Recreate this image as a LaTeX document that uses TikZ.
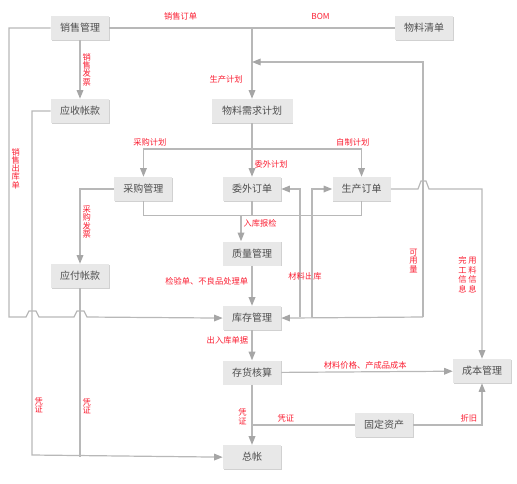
\documentclass[tikz,border=0pt]{standalone}
\usepackage{fontspec}
\setmainfont{Noto Sans CJK SC}
\usetikzlibrary{arrows.meta,positioning,shadows}

\definecolor{boxgray}{RGB}{232,232,232}
\definecolor{linegray}{RGB}{184,184,184}
\definecolor{tipgray}{RGB}{166,166,166}
\definecolor{txtgray}{RGB}{78,78,78}
\definecolor{lblred}{RGB}{250,30,50}

\begin{document}
\begin{tikzpicture}[x=0.75pt,y=-0.75pt,
    blk/.style={rectangle, fill=boxgray, text=txtgray, inner sep=0pt,
      minimum width=43.5pt, minimum height=18pt, font=\fontsize{7.5}{9}\selectfont,
      drop shadow={shadow xshift=0.4pt, shadow yshift=-0.6pt, fill=black!30, opacity=0.6}},
    ln/.style={draw=linegray, line width=0.9pt},
    arr/.style={ln, -{Triangle[length=6.5pt,width=5pt,color=tipgray]}},
    lbl/.style={text=lblred, inner sep=1.5pt, font=\fontsize{6.2}{6.2}\selectfont, align=center}]
  \useasboundingbox (0,0) rectangle (517,483);
  \node[blk] (sales) at (80,28) {销售管理};
  \node[blk] (bom) at (424,28) {物料清单};
  \node[blk] (ar) at (80,111) {应收帐款};
  \node[blk, minimum width=60.75pt] (mrp) at (252,111) {物料需求计划};
  \node[blk] (outs) at (252,189) {委外订单};
  \node[blk, left=37.5pt of outs] (purch) {采购管理};
  \node[blk, right=38.25pt of outs] (prod) {生产订单};
  \node[blk, below=30pt of outs] (qc) {质量管理};
  \node[blk] (ap) at (80,276) {应付帐款};
  \node[blk, below=30pt of qc] (inv) {库存管理};
  \node[blk, below=22.5pt of inv] (acc) {存货核算};
  \node[blk, below=45pt of acc] (ledger) {总帐};
  \node[blk] (cost) at (482,371) {成本管理};
  \node[blk] (fa) at (384,425) {固定资产};
  \coordinate (ky) at (423,317);
  \coordinate (jh) at (252,149);
  \coordinate (rk) at (241,216);
  \coordinate (xs) at (9,317);
  \coordinate (pz) at (32,455);
  % top
  \draw[arr] (sales.east) -| node[lbl, above=4pt, pos=0.25] {销售订单}
    node[lbl, left, xshift=-5pt, pos=0.86] {生产计划} (mrp.north);
  \draw[ln] (bom.west) -- node[lbl, above=4pt, pos=0.52] {BOM} (bom.west -| mrp.north);
  \draw[arr] (sales) -- node[lbl, right, pos=0.5] {销\\售\\发\\票} (ar);
  \draw[arr] (ky) -- (inv.east);
  \draw[arr] (ky) |- node[lbl, left=2pt, pos=0.11] {可\\用\\量} (mrp.north |- 0,62);
  % plans
  \draw[arr] (mrp.south) -- node[lbl, right, pos=0.76] {委外计划} (outs.north);
  \draw[arr] (jh) -| node[lbl, above, pos=0.47] {采购计划} (purch.north);
  \draw[arr] (jh) -| node[lbl, above, pos=0.46] {自制计划} (prod.north);
  \draw[arr] (purch.west) -| node[lbl, right, pos=0.72] {采\\购\\发\\票} (ap.north);
  % orders
  \draw[ln] (purch.south) -- ++(0,14) -| (prod.south);
  \draw[ln] (outs.south) -- ++(0,14);
  \draw[arr] (rk) -- node[lbl, right, pos=0.28] {入库报检} (rk |- qc.north);
  \draw[arr] (300,317) |- node[lbl, pos=0.16, xshift=3.75pt] {材料出库} (outs.east);
  \draw[arr] (312,317) |- (prod.west);
  \draw[arr] (prod.east) -- (418,189) -- ++(3,-8) -- ++(5,0) -- ++(3,8)
    -| node[lbl, left=2pt, pos=0.755] {\begin{tabular}{@{}c@{\hspace{1.3pt}}c@{}}完&用\\工&料\\信&信\\息&息\end{tabular}} (cost.north);
  % stock
  \draw[arr] (qc) -- node[lbl, left=1pt, pos=0.4] {检验单、不良品处理单} (inv);
  \draw[arr] (sales.west) -| node[lbl, right, pos=0.743] {销\\售\\出\\库\\单} (xs)
    -- (26,317) -- ++(3,-6) -- ++(7,0) -- ++(3,6)
    -- (74,317) -- ++(3,-6) -- ++(7,0) -- ++(3,6) -- (inv.west);
  \draw[arr] (inv) -- node[lbl, left=1pt, pos=0.33] {出入库单据} (acc);
  % accounts
  \draw[arr] (acc) -- node[lbl, left=2pt, pos=0.53] {凭\\证} (ledger);
  \draw[arr] (acc) -- node[lbl, above, pos=0.49] {材料价格、产成品成本} (cost);
  \draw[ln] (fa.west) -- node[lbl, above, pos=0.67] {凭证} (fa.west -| ledger.north);
  \draw[arr] (fa.east) -| node[lbl, above, pos=0.405] {折旧} (cost.south);
  \draw[arr] (ar.west) -| node[lbl, right, pos=0.928] {凭\\证} (pz) -- (ledger.west);
  \draw[ln] (ap.south) -- node[lbl, right, pos=0.7] {凭\\证} (ap.south |- ledger.west);
\end{tikzpicture}
\end{document}
